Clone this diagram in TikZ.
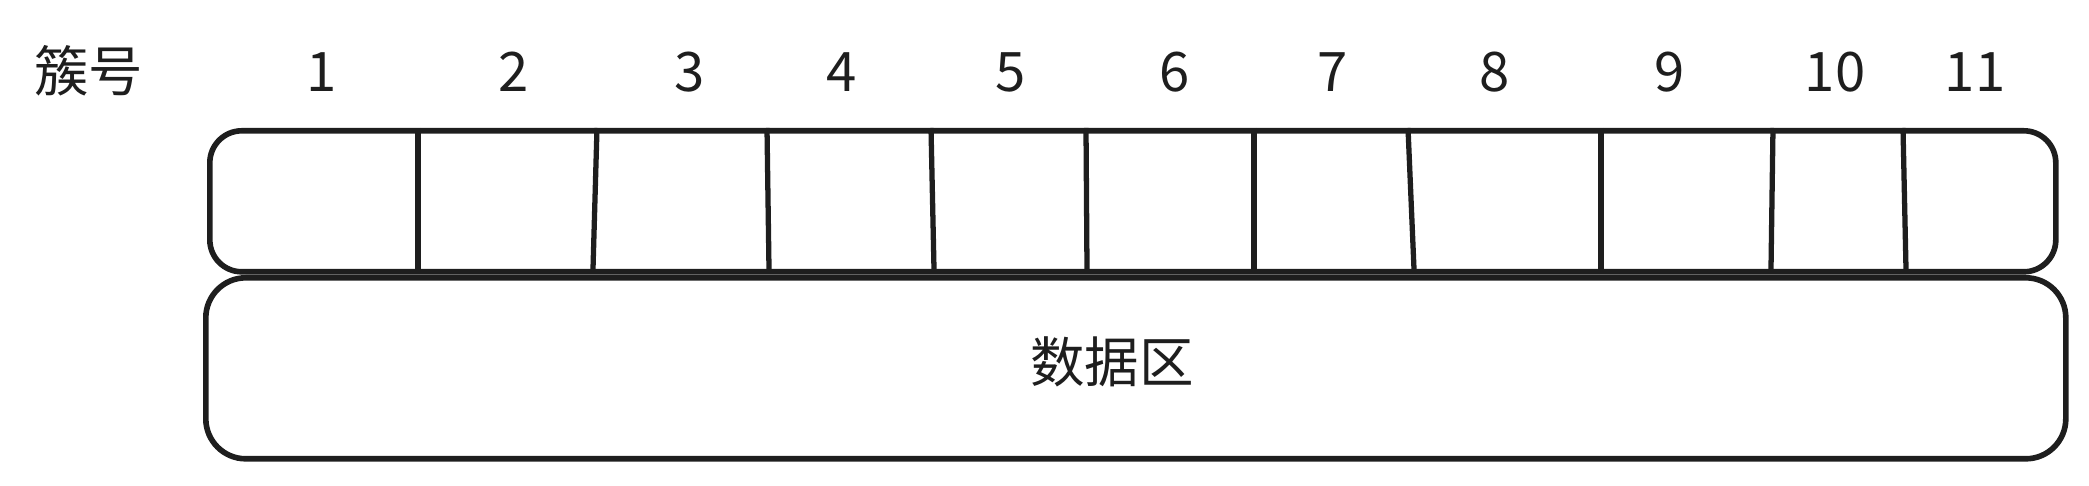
\documentclass[tikz,border=0pt]{standalone}
\usepackage{fontspec}
\setmainfont{Noto Sans CJK SC}
\usepackage{tikz}
\usetikzlibrary{positioning,calc}
\definecolor{ink}{RGB}{30,30,30}

\begin{document}
\begin{tikzpicture}[every node/.style={inner sep=0pt, text=ink, font=\fontsize{15.5pt}{18pt}\selectfont}]
        \useasboundingbox (0,0) rectangle (20.89,-4.86);
        \begin{scope}[xshift=0cm,yshift=0cm]
            \node[draw=ink, line width=1.6pt, rounded corners=0.32cm, anchor=north west, minimum width=18.46cm, minimum height=1.41cm] (fat) at (2.07,-1.28) {};
            \draw[draw=ink, line width=1.5pt] (4.18,-1.28) to (4.18,-2.69);
            \draw[draw=ink, line width=1.5pt] (5.97,-1.28) to (5.93,-2.69);
            \draw[draw=ink, line width=1.5pt] (7.67,-1.28) to (7.69,-2.69);
            \draw[draw=ink, line width=1.5pt] (9.31,-1.28) to (9.34,-2.69);
            \draw[draw=ink, line width=1.5pt] (10.86,-1.28) to (10.87,-2.69);
            \draw[draw=ink, line width=1.5pt] (12.54,-1.28) to (12.54,-2.69);
            \draw[draw=ink, line width=1.5pt] (14.08,-1.28) to (14.14,-2.69);
            \draw[draw=ink, line width=1.5pt] (16.01,-1.28) to (16.01,-2.69);
            \draw[draw=ink, line width=1.5pt] (17.73,-1.28) to (17.71,-2.69);
            \draw[draw=ink, line width=1.5pt] (19.03,-1.28) to (19.06,-2.69);
        \end{scope}
        \node[draw=ink, line width=1.6pt, rounded corners=0.4cm, anchor=north west, minimum width=18.60cm, minimum height=1.81cm] (data) at (2.03,-2.75) {};
        \node (datatext) at (11.12,-3.62) {数据区};
        % cluster numbers
        \node (clusterno) at (0.89,-0.71) {簇号};
        \node (n1) at (3.22,-0.72) {1};
        \node (n2) at (5.14,-0.72) {2};
        \node (n3) at (6.90,-0.72) {3};
        \node (n4) at (8.42,-0.72) {4};
        \node (n5) at (10.11,-0.72) {5};
        \node (n6) at (11.75,-0.72) {6};
        \node (n7) at (13.33,-0.72) {7};
        \node (n8) at (14.95,-0.72) {8};
        \node (n9) at (16.70,-0.72) {9};
        \node (n10) at (18.35,-0.72) {10};
        \node (n11) at (19.75,-0.72) {11};
    \end{tikzpicture}
\end{document}
